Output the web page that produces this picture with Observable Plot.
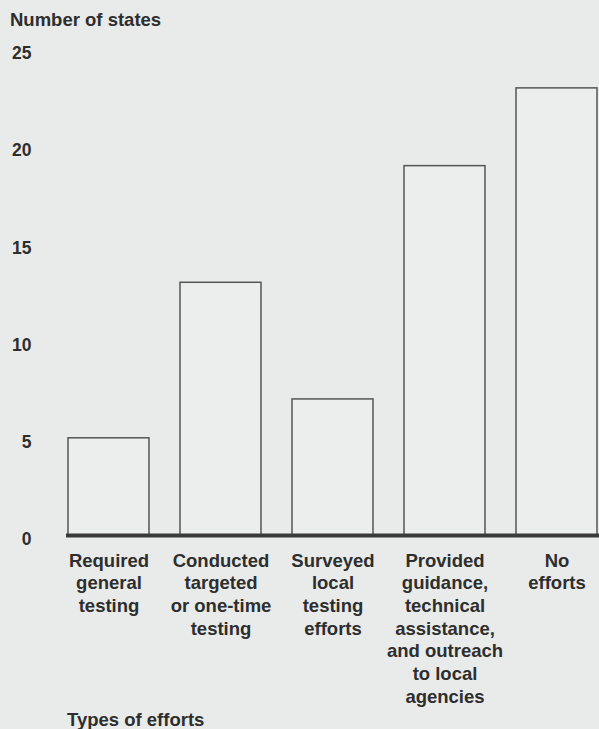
<!DOCTYPE html>
<html>
<head>
<meta charset="utf-8">
<script src="https://cdn.jsdelivr.net/npm/d3@7"></script>
<script src="https://cdn.jsdelivr.net/npm/@observablehq/plot@0.6"></script>
<style>
  html, body { margin: 0; padding: 0; background: #e9ebea; }
  body { width: 599px; height: 729px; position: relative; overflow: hidden;
         font-family: "Liberation Sans", Arial, Helvetica, sans-serif; color: #2e2e2e; }
  .t { position: absolute; font-weight: bold; font-size: 18.5px; line-height: 20px; white-space: nowrap; }
  #ytitle { left: 10px; top: 10px; }
  #xtitle { left: 67px; top: 710px; }
  #chart { position: absolute; left: 0; top: 32px; }
</style>
</head>
<body>
<div class="t" id="ytitle">Number of states</div>
<div id="chart"></div>
<div class="t" id="xtitle">Types of efforts</div>
<script>
const categories = [
  "Required general testing",
  "Conducted targeted or one-time testing",
  "Surveyed local testing efforts",
  "Provided guidance, technical assistance, and outreach to local agencies",
  "No efforts"
];
const tickLabels = [
  "Required\ngeneral\ntesting",
  "Conducted\ntargeted\nor one-time\ntesting",
  "Surveyed\nlocal\ntesting\nefforts",
  "Provided\nguidance,\ntechnical\nassistance,\nand outreach\nto local\nagencies",
  "No\nefforts"
];
const states = [5, 13, 7, 19, 23];
const yTicks = [0, 5, 10, 15, 20, 25];

const data = categories.map((c, i) => ({category: c, value: states[i]}));
const labelOf = new Map(categories.map((c, i) => [c, tickLabels[i]]));

const chart = Plot.plot({
  width: 599,
  height: 660,
  marginTop: 17,
  marginBottom: 157,
  marginLeft: 66,
  marginRight: 0,
  style: {
    background: "transparent",
    fontFamily: "'Liberation Sans', Arial, Helvetica, sans-serif",
    fontSize: "18.5px",
    fontWeight: "bold",
    color: "#2e2e2e",
    overflow: "visible"
  },
  x: {domain: categories, paddingInner: 0.28, paddingOuter: 0},
  y: {domain: [0, 25]},
  marks: [
    Plot.barY(data, {x: "category", y: "value", fill: "#eceeed", stroke: "#555", strokeWidth: 1.5}),
    Plot.ruleY([0], {stroke: "#3a3a3a", strokeWidth: 4}),
    Plot.axisY({ticks: yTicks, tickSize: 0, tickPadding: 35, dy: 4, label: null, fill: "#2e2e2e", fontSize: 17.5}),
    Plot.axisX({tickSize: 0, tickPadding: 15, label: null, lineHeight: 1.227,
                tickFormat: d => labelOf.get(d), fill: "#2e2e2e"})
  ]
});
document.getElementById("chart").appendChild(chart);
</script>
</body>
</html>
